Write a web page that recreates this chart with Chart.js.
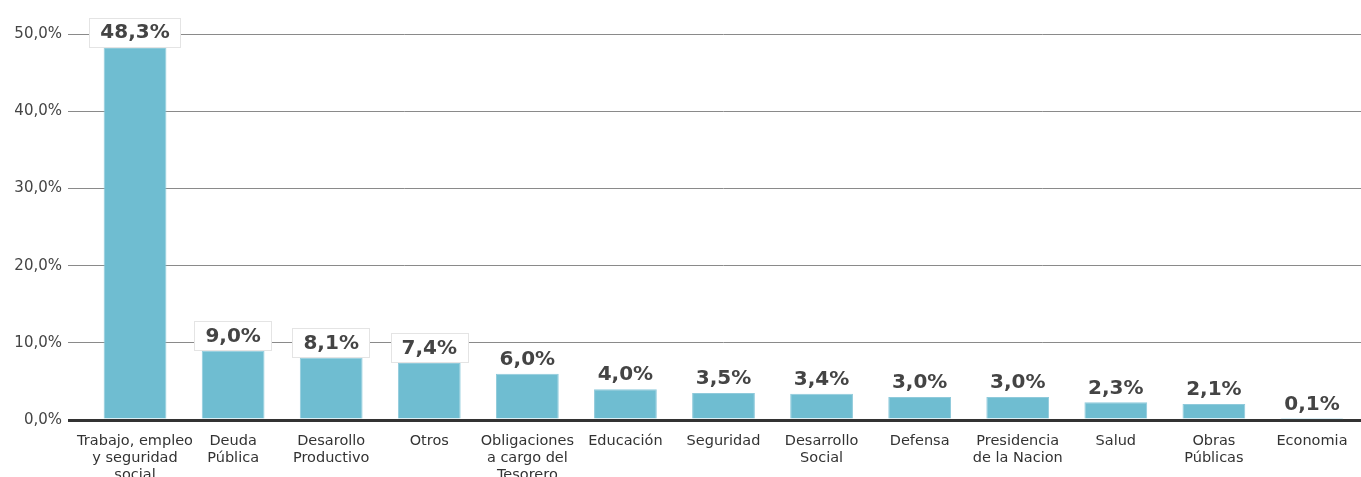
<!DOCTYPE html>
<html>
<head>
<meta charset="utf-8">
<script src="https://cdn.jsdelivr.net/npm/chart.js@4"></script>
<style>
  html, body { margin: 0; padding: 0; background: #fff; overflow: hidden; }
  #wrap { position: relative; width: 1361px; height: 497px; }
</style>
</head>
<body>
<div id="wrap"><canvas id="c"></canvas></div>
<script>
const categories = [
  ["Trabajo, empleo", "y seguridad", "social"],
  ["Deuda", "Pública"],
  ["Desarollo", "Productivo"],
  "Otros",
  ["Obligaciones", "a cargo del", "Tesorero"],
  "Educación",
  "Seguridad",
  ["Desarrollo", "Social"],
  "Defensa",
  ["Presidencia", "de la Nacion"],
  "Salud",
  ["Obras", "Públicas"],
  "Economia"
];
const shares = [48.3, 9.0, 8.1, 7.4, 6.0, 4.0, 3.5, 3.4, 3.0, 3.0, 2.3, 2.1, 0.1];
const yTicks = [0, 10, 20, 30, 40, 50];

const fmt = v => v.toFixed(1).replace('.', ',') + '%';

const labelPlugin = {
  id: 'valueLabels',
  afterDatasetsDraw(chart) {
    const ctx = chart.ctx;
    const meta = chart.getDatasetMeta(0);
    const yScale = chart.scales.y;
    const gridYs = yTicks.filter(t => t > 0).map(t => yScale.getPixelForValue(t));
    ctx.save();
    ctx.font = 'bold 20px "DejaVu Sans"';
    ctx.textAlign = 'center';
    ctx.textBaseline = 'middle';
    meta.data.forEach((bar, i) => {
      const text = fmt(shares[i]);
      const w = ctx.measureText(text).width;
      const top = Math.min(bar.y, bar.base);
      const cy = top - 15;
      const crosses = gridYs.some(g => g >= cy - 12 && g <= cy + 12);
      if (crosses) {
        const padX = 11;
        const boxH = 29;
        const bx = Math.round(bar.x - w / 2 - padX) + 0.5;
        const by = Math.round(cy - boxH / 2) + 0.5;
        const bw = Math.round(w + padX * 2);
        ctx.fillStyle = '#ffffff';
        ctx.fillRect(bx, by, bw, boxH);
        ctx.strokeStyle = '#e4e4e4';
        ctx.lineWidth = 1;
        ctx.strokeRect(bx, by, bw, boxH);
      }
      ctx.fillStyle = '#444444';
      ctx.fillText(text, bar.x, cy + 1);
    });
    ctx.restore();
  }
};

new Chart(document.getElementById('c'), {
  type: 'bar',
  data: {
    labels: categories,
    datasets: [{
      data: shares,
      backgroundColor: '#6fbdd1',
      borderColor: '#8fcadb',
      borderWidth: { top: 1, left: 1, right: 1, bottom: 0 },
      barPercentage: 0.8,
      categoryPercentage: 0.8
    }]
  },
  options: {
    responsive: true,
    maintainAspectRatio: false,
    animation: false,
    layout: { padding: { top: 34, right: 0, bottom: 0, left: 0 } },
    plugins: { legend: { display: false }, tooltip: { enabled: false } },
    scales: {
      x: {
        grid: { display: false, drawTicks: false },
        border: { display: false },
        ticks: {
          padding: 13,
          color: '#333333',
          font: { family: '"DejaVu Sans"', size: 14.5, lineHeight: 1.17 },
          maxRotation: 0,
          autoSkip: false
        }
      },
      y: {
        min: 0,
        max: 50,
        afterFit(scale) { scale.width = 86; },
        afterBuildTicks(scale) { scale.ticks = yTicks.map(v => ({ value: v })); },
        border: { display: false },
        grid: {
          tickLength: 18,
          color: c => (c.tick && c.tick.value === 0) ? '#333333' : '#8a8a8a',
          lineWidth: c => (c.tick && c.tick.value === 0) ? 3 : 1
        },
        ticks: {
          padding: 6,
          color: '#444444',
          font: { family: '"DejaVu Sans"', size: 15 },
          callback: v => fmt(v)
        }
      }
    }
  },
  plugins: [labelPlugin]
});
</script>
</body>
</html>
